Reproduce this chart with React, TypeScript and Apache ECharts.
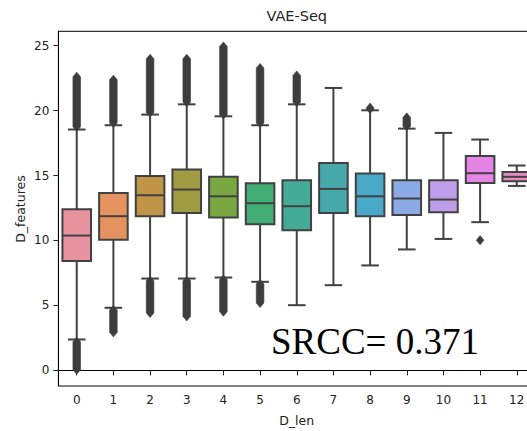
import React, { useEffect, useRef } from "react";
import * as echarts from "echarts";

const categories = ["0", "1", "2", "3", "4", "5", "6", "7", "8", "9", "10", "11", "12"];
const whiskerLow = [2.38, 4.82, 7.07, 7.07, 7.15, 6.82, 5.02, 6.56, 8.08, 9.31, 10.12, 11.41, 14.2];
const q1 = [8.43, 10.05, 11.87, 12.12, 11.77, 11.25, 10.79, 12.12, 11.87, 11.97, 12.18, 14.43, 14.56];
const median = [10.38, 11.87, 13.48, 13.92, 13.4, 12.87, 12.64, 13.97, 13.4, 13.23, 13.15, 15.18, 14.9];
const q3 = [12.4, 13.66, 14.97, 15.46, 14.9, 14.4, 14.64, 15.97, 15.15, 14.64, 14.64, 16.51, 15.28];
const whiskerHigh = [18.54, 18.87, 19.69, 20.48, 19.56, 18.87, 20.48, 21.74, 20.02, 18.61, 18.28, 17.77, 15.77];

// outlier clusters: category index, lowest and highest outlier value
const outlierCat = [0, 0, 1, 1, 2, 2, 3, 3, 4, 4, 5, 5, 6, 8, 9, 11];
const outlierLow = [18.75, 0.05, 19.05, 2.93, 19.85, 4.42, 20.65, 4.16, 19.7, 4.52, 19.05, 5.19, 20.65, 20.12, 18.8, 10.02];
const outlierHigh = [22.6, 2.2, 22.37, 4.65, 23.98, 6.9, 23.98, 6.9, 24.93, 7.0, 23.27, 6.65, 22.7, 20.22, 19.47, 10.02];

const yTicks = [0, 5, 10, 15, 20, 25];

const colors = [
  "#e8919f", "#e4925f", "#c0954a", "#9f9c42", "#79a843", "#42ad75", "#44ab96",
  "#47a8aa", "#4aa8c9", "#8cabe6", "#bd9ee8", "#e584e5", "#e78ac0",
];

const LINE = "#414141";

export default function App() {
  const ref = useRef<HTMLDivElement>(null);
  useEffect(() => {
    if (!ref.current) return;
    const chart = echarts.init(ref.current, undefined, { renderer: "svg" });
    const boxData = categories.map((_, i) => [i, whiskerLow[i], q1[i], median[i], q3[i], whiskerHigh[i]]);
    const outData = outlierCat.map((c, i) => [c, outlierLow[i], outlierHigh[i]]);
    const font = "DejaVu Sans";
    chart.setOption({
      animation: false,
      grid: {
        left: 58.4, right: 0.9, top: 31.3, bottom: 45,
        show: true, borderColor: "#000", borderWidth: 1, backgroundColor: "transparent",
      },
      xAxis: {
        type: "category",
        data: categories,
        boundaryGap: true,
        axisLine: { show: true, lineStyle: { color: "#000", width: 1 } },
        axisTick: { show: true, alignWithLabel: true, length: 5, lineStyle: { color: "#222" } },
        axisLabel: { color: "#222", fontSize: 12, fontFamily: font, margin: 8 },
        splitLine: { show: false },
      },
      yAxis: {
        type: "value",
        min: -1.2,
        max: 26.1,
        axisLine: { show: true, lineStyle: { color: "#000", width: 1 } },
        axisTick: { show: true, length: 5, customValues: yTicks, lineStyle: { color: "#222" } },
        axisLabel: { color: "#222", fontSize: 12, fontFamily: font, margin: 9, customValues: yTicks },
        splitLine: { show: false },
      },
      series: [
        {
          type: "custom",
          data: boxData,
          encode: { x: 0, y: [1, 2, 3, 4, 5] },
          clip: false,
          renderItem: (params: any, api: any) => {
            const idx = api.value(0);
            const band = api.size([1, 0])[0];
            const boxW = band * 0.78;
            const capW = band * 0.48;
            const pLo = api.coord([idx, api.value(1)]);
            const pQ1 = api.coord([idx, api.value(2)]);
            const pMed = api.coord([idx, api.value(3)]);
            const pQ3 = api.coord([idx, api.value(4)]);
            const pHi = api.coord([idx, api.value(5)]);
            const cx = pMed[0];
            const ls = { stroke: LINE, lineWidth: 2 };
            return {
              type: "group",
              children: [
                { type: "line", shape: { x1: cx, y1: pQ1[1], x2: cx, y2: pLo[1] }, style: ls },
                { type: "line", shape: { x1: cx, y1: pQ3[1], x2: cx, y2: pHi[1] }, style: ls },
                { type: "line", shape: { x1: cx - capW / 2, y1: pLo[1], x2: cx + capW / 2, y2: pLo[1] }, style: ls },
                { type: "line", shape: { x1: cx - capW / 2, y1: pHi[1], x2: cx + capW / 2, y2: pHi[1] }, style: ls },
                {
                  type: "rect",
                  shape: { x: cx - boxW / 2, y: pQ3[1], width: boxW, height: pQ1[1] - pQ3[1] },
                  style: { fill: colors[idx], stroke: LINE, lineWidth: 2 },
                },
                { type: "line", shape: { x1: cx - boxW / 2, y1: pMed[1], x2: cx + boxW / 2, y2: pMed[1] }, style: ls },
              ],
            };
          },
        },
        {
          type: "custom",
          data: outData,
          encode: { x: 0, y: [1, 2] },
          clip: false,
          renderItem: (params: any, api: any) => {
            const idx = api.value(0);
            const pLo = api.coord([idx, api.value(1)]);
            const pHi = api.coord([idx, api.value(2)]);
            const cx = pLo[0];
            const w = 3.8;
            const h = 4.6;
            return {
              type: "polygon",
              shape: {
                points: [
                  [cx, pHi[1] - h],
                  [cx + w, pHi[1]],
                  [cx + w, pLo[1]],
                  [cx, pLo[1] + h],
                  [cx - w, pLo[1]],
                  [cx - w, pHi[1]],
                ],
              },
              style: { fill: "#3d3d3d", stroke: "#3d3d3d", lineWidth: 0.6 },
            };
          },
        },
      ],
      graphic: [
        {
          type: "text", x: 296.7, y: 16,
          style: { text: "VAE-Seq", fontSize: 14.5, fontFamily: font, fill: "#222", align: "center", verticalAlign: "middle" },
        },
        {
          type: "text", x: 296.7, y: 420,
          style: { text: "D_len", fontSize: 12.5, fontFamily: font, fill: "#222", align: "center", verticalAlign: "middle" },
        },
        {
          type: "text", x: 20, y: 209, rotation: Math.PI / 2,
          style: { text: "D_features", fontSize: 12.5, fontFamily: font, fill: "#222", align: "center", verticalAlign: "middle" },
        },
        {
          type: "text", x: 271, y: 341,
          style: { text: "SRCC= 0.371", fontSize: 37, fontFamily: "Liberation Serif", fill: "#000", align: "left", verticalAlign: "middle" },
        },
      ],
    });
    return () => chart.dispose();
  }, []);
  return (
    <div style={{ position: "fixed", left: 0, top: 0, width: 527, height: 431, overflow: "hidden", background: "#fff" }}>
      <div ref={ref} style={{ width: 536, height: 431 }} />
    </div>
  );
}
